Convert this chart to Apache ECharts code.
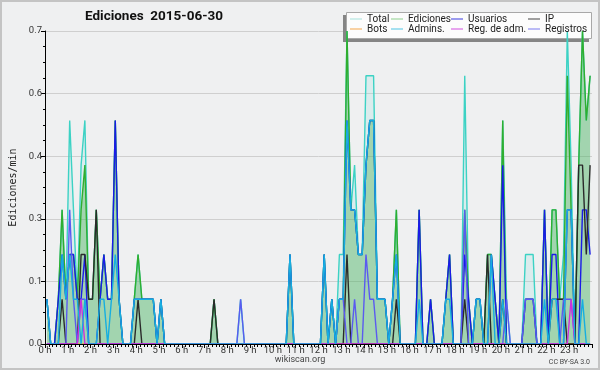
<!DOCTYPE html>
<html><head><meta charset="utf-8">
<script src="https://cdn.jsdelivr.net/npm/echarts@6/dist/echarts.min.js"></script>
<style>html,body{margin:0;padding:0;background:#eff0f1}#c{width:600px;height:370px}</style>
</head><body><div id="c"></div>
<script>
const FONT = "Roboto,'DejaVu Sans',sans-serif";
const hourLabels = ['0 h','1 h','2 h','3 h','4 h','5 h','6 h','7 h','8 h','9 h','10 h','11 h',
  '12 h','13 h','14 h','15 h','16 h','17 h','18 h','19 h','20 h','21 h','22 h','23 h'];
const yTickLabels = ['0.0','0.1','0.3','0.4','0.6','0.7'];
const yTickStep = 0.14;
// edits per minute, one value per 10-minute slot (6 per hour), 00:00 -> 23:50
const total = [
 .1,0,0,.1,.3,.1,  .5,.3,.1,.4,.5,.1,  .1,.3,.1,.2,.1,.1,  .5,.1,0,0,0,.1,
 .2,.1,.1,.1,.1,0,  .1,0,0,0,0,0,  0,0,0,0,0,0,  0,0,.1,0,0,0,
 0,0,0,.1,0,0,  0,0,0,0,0,0,  0,0,0,0,.2,0,  0,0,0,0,0,0,
 0,.2,0,.1,0,.2,  .2,.7,.3,.4,.2,.2,  .6,.6,.6,.1,.1,.1,  0,.1,.3,0,0,0,
 0,0,.3,0,0,.1,  0,0,0,.1,.2,0,  0,0,.6,.1,0,.1,  .1,0,.2,.2,.1,0,
 .5,.1,0,0,0,0,  .2,.2,.2,0,0,.3,  0,.3,.3,.1,.2,.7,  .4,0,.4,.7,.5,.6
];
const edits = [
 .1,0,0,.1,.3,.1,  .2,.2,.1,.3,.4,.1,  .1,.3,.1,.2,.1,.1,  .5,.1,0,0,0,.1,
 .2,.1,.1,.1,.1,0,  .1,0,0,0,0,0,  0,0,0,0,0,0,  0,0,.1,0,0,0,
 0,0,0,0,0,0,  0,0,0,0,0,0,  0,0,0,0,.2,0,  0,0,0,0,0,0,
 0,.2,0,.1,0,.1,  .1,.7,.3,.3,.2,.2,  .4,.5,.5,.1,.1,.1,  0,.1,.3,0,0,0,
 0,0,.3,0,0,.1,  0,0,0,.1,.2,0,  0,0,.3,.1,0,.1,  .1,0,.2,.2,.1,0,
 .5,0,0,0,0,0,  .1,.1,.1,0,0,.3,  0,.3,.3,.1,.1,.6,  .3,0,.4,.7,.5,.6
];
const users = [
 .1,0,0,.1,.2,.1,  .2,.2,.1,.1,.2,0,  0,0,.1,.2,.1,.1,  .5,.1,0,0,0,.1,
 .1,.1,.1,.1,.1,0,  .1,0,0,0,0,0,  0,0,0,0,0,0,  0,0,0,0,0,0,
 0,0,0,0,0,0,  0,0,0,0,0,0,  0,0,0,0,.2,0,  0,0,0,0,0,0,
 0,.2,0,.1,0,.1,  .1,.5,.3,.3,.2,.2,  .4,.5,.5,.1,.1,.1,  0,.1,.2,0,0,0,
 0,0,.3,0,0,.1,  0,0,0,.1,.2,0,  0,0,.2,.1,0,.1,  .1,0,0,.2,.1,0,
 .4,0,0,0,0,0,  .1,.1,.1,0,0,.3,  0,.2,.2,0,0,.3,  .3,0,0,.3,.3,.2
];
const ip = [
 0,0,0,0,.1,0,  0,0,0,.2,.2,.1,  .1,.3,0,0,0,0,  0,0,0,0,0,0,
 .1,0,0,0,0,0,  0,0,0,0,0,0,  0,0,0,0,0,0,  0,0,.1,0,0,0,
 0,0,0,0,0,0,  0,0,0,0,0,0,  0,0,0,0,0,0,  0,0,0,0,0,0,
 0,0,0,0,0,0,  0,.2,0,0,0,0,  0,0,0,0,0,0,  0,0,.1,0,0,0,
 0,0,0,0,0,0,  0,0,0,0,0,0,  0,0,.1,0,0,0,  0,0,.2,0,0,0,
 .1,0,0,0,0,0,  0,0,0,0,0,0,  0,.1,.1,.1,.1,0,  0,0,.4,.4,.2,.4
];
const bots = [
 0,0,0,0,0,0,  0,0,0,0,0,0,  0,0,0,0,0,0,  0,0,0,0,0,0,
 0,0,0,0,0,0,  0,0,0,0,0,0,  0,0,0,0,0,0,  0,0,0,0,0,0,
 0,0,0,0,0,0,  0,0,0,0,0,0,  0,0,0,0,0,0,  0,0,0,0,0,0,
 0,0,0,0,0,0,  0,0,0,0,0,0,  0,0,0,0,0,0,  0,0,0,0,0,0,
 0,0,0,0,0,0,  0,0,0,0,0,0,  0,0,0,0,0,0,  0,0,0,0,0,0,
 0,0,0,0,0,0,  0,0,0,0,0,0,  0,0,0,0,0,0,  0,0,0,0,0,0
];
const admins = [
 .1,0,0,0,.2,.1,  .2,.1,.1,0,.1,0,  0,0,.1,.1,0,.1,  .2,.1,0,0,0,.1,
 .1,.1,.1,.1,.1,0,  .1,0,0,0,0,0,  0,0,0,0,0,0,  0,0,0,0,0,0,
 0,0,0,0,0,0,  0,0,0,0,0,0,  0,0,0,0,.2,0,  0,0,0,0,0,0,
 0,.2,0,.1,0,.1,  .1,.5,.3,.3,.2,.2,  .4,.5,.5,.1,.1,.1,  0,.1,.2,0,0,0,
 0,0,.1,0,0,0,  0,0,0,.1,.1,0,  0,0,0,0,0,.1,  .1,0,0,.2,0,0,
 .1,0,0,0,0,0,  0,0,0,0,0,.1,  0,.1,.1,0,0,.3,  .3,0,0,.1,0,0
];
const adminLogs = [
 0,0,0,0,0,0,  0,0,0,.1,0,0,  0,0,0,0,0,0,  0,0,0,0,0,0,
 0,0,0,0,0,0,  0,0,0,0,0,0,  0,0,0,0,0,0,  0,0,0,0,0,0,
 0,0,0,0,0,0,  0,0,0,0,0,0,  0,0,0,0,0,0,  0,0,0,0,0,0,
 0,0,0,0,0,0,  0,0,0,0,0,0,  0,0,0,0,0,0,  0,0,0,0,0,0,
 0,0,0,0,0,0,  0,0,0,0,0,0,  0,0,0,0,0,0,  0,0,0,0,0,0,
 0,0,0,0,0,0,  0,0,0,0,0,0,  0,0,0,0,0,0,  .1,0,0,0,0,0
];
const logs = [
 0,0,0,0,0,0,  .3,.1,0,.1,.1,0,  0,0,0,0,0,0,  0,0,0,0,0,0,
 0,0,0,0,0,0,  0,0,0,0,0,0,  0,0,0,0,0,0,  0,0,0,0,0,0,
 0,0,0,.1,0,0,  0,0,0,0,0,0,  0,0,0,0,0,0,  0,0,0,0,0,0,
 0,0,0,0,0,.1,  .1,0,0,.1,0,0,  .2,.1,.1,0,0,0,  0,0,0,0,0,0,
 0,0,0,0,0,0,  0,0,0,0,0,0,  0,0,.3,0,0,0,  0,0,0,0,0,0,
 0,.1,0,0,0,0,  .1,.1,.1,0,0,0,  0,0,0,0,.1,.1,  .1,0,0,0,0,0
];

const pts = arr => arr.map((v, i) => [i + 0.5, v]);
const line = (name, data, color, extra) => Object.assign({
  name, type: 'line', data: pts(data), showSymbol: false, symbol: 'none',
  lineStyle: { color, width: 1.4 }, itemStyle: { color }, silent: true
}, extra || {});

const chart = echarts.init(document.getElementById('c'), null, { renderer: 'canvas' });
const legendCommon = {
  orient: 'vertical', top: 14, padding: 0, itemGap: 0, itemWidth: 12, itemHeight: 1,
  icon: 'rect', selectedMode: false,
  textStyle: { fontFamily: FONT, fontSize: 10, color: '#222', lineHeight: 10 }
};
chart.setOption({
  animation: false,
  backgroundColor: '#eff0f1',
  title: [
    { text: 'Ediciones  2015-06-30', left: 85, top: 10, padding: 0,
      textStyle: { fontFamily: FONT, fontSize: 13.5, fontWeight: 'bold', color: '#111' } },
    { text: 'wikiscan.org', left: 'center', top: 355, padding: 0,
      textStyle: { fontFamily: FONT, fontSize: 9, fontWeight: 'normal', color: '#444' } },
    { text: 'CC BY-SA 3.0', right: 10, top: 359, padding: 0,
      textStyle: { fontFamily: FONT, fontSize: 7, fontWeight: 'normal', color: '#444' } }
  ],
  legend: [
    Object.assign({ left: 350, data: [
      { name: 'Total', itemStyle: { color: '#a6e2dc' } },
      { name: 'Bots', itemStyle: { color: '#f4a64a' } } ] }, legendCommon),
    Object.assign({ left: 391, data: [
      { name: 'Ediciones', itemStyle: { color: '#8fd08f' } },
      { name: 'Admins.', itemStyle: { color: '#4cc4e4' } } ] }, legendCommon),
    Object.assign({ left: 451, data: [
      { name: 'Usuarios', itemStyle: { color: '#3a3ae0' } },
      { name: 'Reg. de adm.', itemStyle: { color: '#d24ee0' } } ] }, legendCommon),
    Object.assign({ left: 528, data: [
      { name: 'IP', itemStyle: { color: '#444444' } },
      { name: 'Registros', itemStyle: { color: '#7a7af0' } } ] }, legendCommon)
  ],
  graphic: [
    { type: 'rect', z: 3, shape: { x: 343, y: 15, width: 246, height: 27 }, style: { fill: '#858585' } },
    { type: 'rect', z: 3, shape: { x: 346.5, y: 12.5, width: 245, height: 26 }, style: { fill: '#fcfcfc', stroke: '#a8a8a8', lineWidth: 1 } },
    { type: 'rect', z: 10, shape: { x: 1, y: 1, width: 598, height: 368 }, style: { fill: 'none', stroke: '#c4c4c4', lineWidth: 2 } }
  ],
  grid: { left: 45, right: 8, top: 31, bottom: 26, containLabel: false, outerBoundsMode: 'none' },
  xAxis: {
    type: 'value', min: 0, max: 144, interval: 6, z: 5,
    axisLine: { show: true, onZero: false, lineStyle: { color: '#000', width: 1 } },
    axisTick: { show: true, length: 4, inside: false, lineStyle: { color: '#000' } },
    minorTick: { show: true, splitNumber: 6, length: 3, lineStyle: { color: '#000' } },
    splitLine: { show: false },
    axisLabel: { margin: 2, fontFamily: FONT, fontSize: 9.5, color: '#333', showMaxLabel: false,
      formatter: v => (hourLabels[v / 6] !== undefined ? hourLabels[v / 6] : '') }
  },
  yAxis: {
    type: 'value', min: 0, max: 0.7, interval: yTickStep,
    name: 'Ediciones/min', nameLocation: 'middle', nameGap: 27,
    nameTextStyle: { fontFamily: "'DejaVu Sans Mono',monospace", fontSize: 10, color: '#222' },
    axisLine: { show: true, lineStyle: { color: '#000', width: 1 } },
    axisTick: { show: true, length: 4, lineStyle: { color: '#000' } },
    minorTick: { show: true, splitNumber: 4, length: 2, lineStyle: { color: '#000' } },
    splitLine: { show: true, lineStyle: { color: '#cfcfcf', width: 1 } },
    axisLabel: { margin: 3, fontFamily: FONT, fontSize: 9.5, color: '#333',
      formatter: v => yTickLabels[Math.round(v / yTickStep)] }
  },
  series: [
    line('Total', total, '#3cd2c4', { areaStyle: { color: 'rgba(150,225,222,0.32)' } }),
    line('Ediciones', edits, '#2fae2f', { areaStyle: { color: 'rgba(40,160,40,0.45)' } }),
    line('Bots', bots, '#f0a040'),
    line('Usuarios', users, '#1a1ae8'),
    line('IP', ip, '#2a2a2a'),
    line('Registros', logs, '#5a5af0'),
    line('Reg. de adm.', adminLogs, '#cc30dd'),
    line('Admins.', admins, '#16aee0')
  ]
});
</script></body></html>
